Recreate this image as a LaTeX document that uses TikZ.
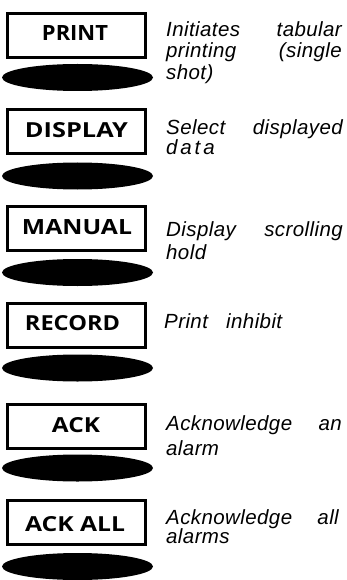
\documentclass[tikz,border=0pt]{standalone}
\usepackage{fontspec}
\usepackage{graphicx}
\usetikzlibrary{shapes.geometric}
\setmainfont{Liberation Sans}
\newfontfamily\keyfont{Open Sans}
\newfontfamily\descfont{Liberation Sans}[LetterSpace=2]
\newcommand\keylabel[2]{\resizebox{#1}{15pt}{\keyfont\bfseries #2}}
\tikzset{
  keybox/.style={draw=black, line width=3pt, fill=white, minimum width=138pt, minimum height=44pt, inner sep=0pt},
  keytext/.style={inner sep=0pt, anchor=center},
  pad/.style={ellipse, fill=black, draw=none, minimum width=151pt, minimum height=27pt, inner sep=0pt},
  desc/.style={inner sep=0pt, font=\descfont\fontsize{20.5pt}{25pt}\selectfont\itshape},
  dl/.style={desc, anchor=base west},
  dr/.style={desc, anchor=base east}
}
\begin{document}
\begin{tikzpicture}[x=1pt, y=-1pt]
\useasboundingbox (0,0) rectangle (346,580);
% keys
\node[keybox] (k1) at (76.5,35.5) {};
\node[keybox] (k2) at (76.5,132) {};
\node[keybox] (k3) at (76.5,228.5) {};
\node[keybox] (k4) at (76.5,325) {};
\node[keybox] (k5) at (76.5,426.5) {};
\node[keybox] (k6) at (76.5,522.5) {};
\node[keytext] (t1) at (75,33.5) {\keylabel{66pt}{PRINT}};
\node[keytext] (t2) at (76.5,130.5) {\keylabel{103pt}{DISPLAY}};
\node[keytext] (t3) at (77,227) {\keylabel{110pt}{MANUAL}};
\node[keytext] (t4) at (72.5,323) {\keylabel{95pt}{RECORD}};
\node[keytext] (t5) at (76,425.5) {\keylabel{48pt}{ACK}};
\node[keytext] (t6) at (75,524) {\keylabel{100pt}{ACK ALL}};
% pads
\node[pad] (p1) at (77.5,77.5) {};
\node[pad] (p2) at (77.5,176) {};
\node[pad] (p3) at (77.5,272.5) {};
\node[pad] (p4) at (77.5,368) {};
\node[pad] (p5) at (77.5,468) {};
\node[pad] (p6) at (77.5,566.5) {};
% descriptions
\node[dl] (d1a) at (166,37) {Initiates};
\node[dr] (d1b) at (342,37) {tabular};
\node[dl] (d1c) at (166,58) {printing};
\node[dr] (d1d) at (342,58) {(single};
\node[dl] (d1e) at (166,80) {shot)};
\node[dl] (d2a) at (166,135) {Select};
\node[dr] (d2b) at (343,135) {displayed};
\node[dl] (d2c) at (166,155) {\addfontfeature{LetterSpace=14}data};
\node[dl] (d3a) at (166,236) {Display};
\node[dr] (d3b) at (343,236) {scrolling};
\node[dl] (d3c) at (166,259) {hold};
\node[dl] (d4a) at (164,328) {Print};
\node[dl] (d4b) at (226,328) {inhibit};
\node[dl] (d5a) at (166,430) {Acknowledge};
\node[dr] (d5b) at (342,430) {an};
\node[dl] (d5c) at (166,455) {alarm};
\node[dl] (d6a) at (166,524) {Acknowledge};
\node[dr] (d6b) at (339,524) {all};
\node[dl] (d6c) at (166,543) {alarms};
\end{tikzpicture}
\end{document}
